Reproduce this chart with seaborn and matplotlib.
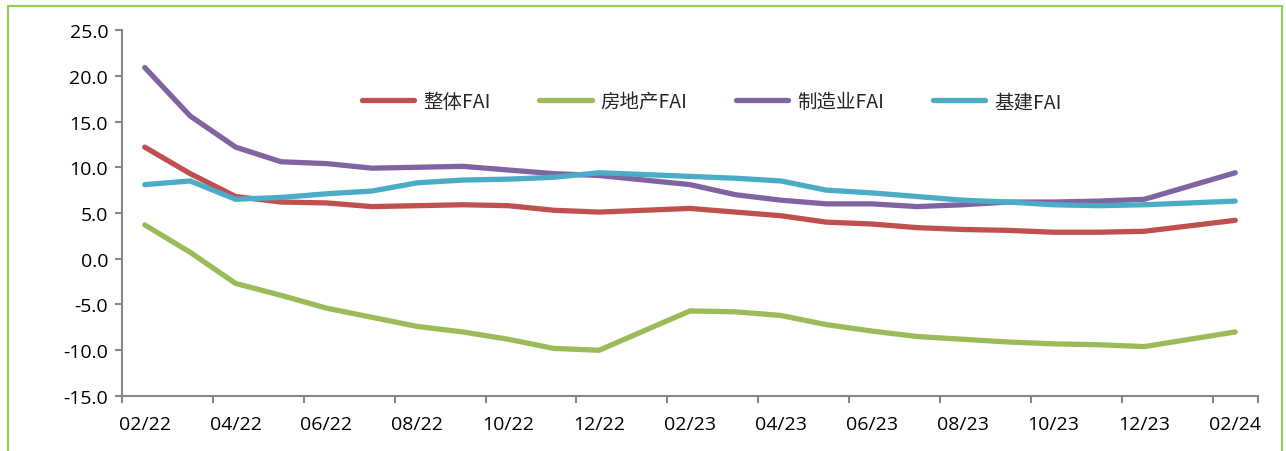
import matplotlib
matplotlib.use("Agg")
import matplotlib.pyplot as plt
from matplotlib.patches import Rectangle
from matplotlib.ticker import FixedLocator, FormatStrFormatter
import pandas as pd
import seaborn as sns

# monthly cumulative YoY (%), Jan figures are not published
MONTHS = [
    "2022-02", "2022-03", "2022-04", "2022-05", "2022-06", "2022-07", "2022-08",
    "2022-09", "2022-10", "2022-11", "2022-12",
    "2023-02", "2023-03", "2023-04", "2023-05", "2023-06", "2023-07", "2023-08",
    "2023-09", "2023-10", "2023-11", "2023-12",
    "2024-02",
]
TOTAL_FAI = [12.2, 9.3, 6.8, 6.2, 6.1, 5.7, 5.8, 5.9, 5.8, 5.3, 5.1,
             5.5, 5.1, 4.7, 4.0, 3.8, 3.4, 3.2, 3.1, 2.9, 2.9, 3.0,
             4.2]
PROPERTY_FAI = [3.7, 0.7, -2.7, -4.0, -5.4, -6.4, -7.4, -8.0, -8.8, -9.8, -10.0,
                -5.7, -5.8, -6.2, -7.2, -7.9, -8.5, -8.8, -9.1, -9.3, -9.4, -9.6,
                -8.0]
MANUF_FAI = [20.9, 15.6, 12.2, 10.6, 10.4, 9.9, 10.0, 10.1, 9.7, 9.3, 9.1,
             8.1, 7.0, 6.4, 6.0, 6.0, 5.7, 5.9, 6.2, 6.2, 6.3, 6.5,
             9.4]
INFRA_FAI = [8.1, 8.5, 6.5, 6.7, 7.1, 7.4, 8.3, 8.6, 8.7, 8.9, 9.4,
             9.0, 8.8, 8.5, 7.5, 7.2, 6.8, 6.4, 6.2, 5.9, 5.8, 5.9,
             6.3]
SERIES_NAMES = ["整体FAI", "房地产FAI", "制造业FAI", "基建FAI"]
COLORS = ["#C0504D", "#9BBB59", "#8064A2", "#4BACC6"]
Y_TICKS = [-15, -10, -5, 0, 5, 10, 15, 20, 25]

dates = pd.to_datetime(MONTHS)
start = dates[0]
month_pos = (dates.year - start.year) * 12 + (dates.month - start.month)

frames = []
for name, vals in zip(SERIES_NAMES, [TOTAL_FAI, PROPERTY_FAI, MANUF_FAI, INFRA_FAI]):
    frames.append(pd.DataFrame({"pos": month_pos, "value": vals, "series": name}))
df = pd.concat(frames, ignore_index=True)

sns.set_theme(style="white")
plt.rcParams["font.family"] = ["Open Sans", "Noto Sans CJK SC", "DejaVu Sans"]

fig = plt.figure(figsize=(12.86, 4.52), dpi=100)
ax = fig.add_axes([0.0949, 0.1217, 0.8833, 0.8097])

sns.lineplot(data=df, x="pos", y="value", hue="series", hue_order=SERIES_NAMES,
             palette=COLORS, linewidth=3.8, ax=ax, sort=True)
for line in ax.get_lines():
    line.set_solid_capstyle("round")
    line.set_solid_joinstyle("round")

n_months = int(month_pos.max())
ax.set_xlim(-0.5, n_months + 0.5)
ax.set_ylim(min(Y_TICKS), max(Y_TICKS))

label_pos = list(range(0, n_months + 1, 2))
label_txt = [(start + pd.DateOffset(months=p)).strftime("%m/%y") for p in label_pos]
ax.set_xticks(label_pos)
ax.set_xticklabels(label_txt)
ax.xaxis.set_minor_locator(FixedLocator([p - 0.5 for p in label_pos] + [n_months + 0.5]))
ax.tick_params(axis="x", which="major", length=0, pad=14, labelsize=14, colors="#000000")
ax.tick_params(axis="x", which="minor", bottom=True, length=5, width=1.5, color="#868686",
               direction="out")
ax.set_yticks(Y_TICKS)
ax.yaxis.set_major_formatter(FormatStrFormatter("%.1f"))
ax.tick_params(axis="y", left=True, length=5, width=1.5, color="#868686", direction="out",
               pad=5, labelsize=14, labelcolor="#000000")

for side in ["top", "right"]:
    ax.spines[side].set_visible(False)
for side in ["left", "bottom"]:
    ax.spines[side].set_color("#868686")
    ax.spines[side].set_linewidth(1.5)

ax.set_xlabel("")
ax.set_ylabel("")
handles, labels = ax.get_legend_handles_labels()
ax.legend(handles, labels, loc="center", bbox_to_anchor=(0.519, 0.804), ncol=4,
          frameon=False, handlelength=2.7, handletextpad=0.45,
          columnspacing=2.5, prop={"family": ["Noto Sans CJK SC", "DejaVu Sans"], "size": 14})

fig.patches.append(Rectangle((8 / 1286, -0.02), 1 - 12 / 1286, 1.02 - 7 / 452,
                             transform=fig.transFigure, fill=False,
                             edgecolor="#92D050", linewidth=1.5))

fig.savefig("out.png", dpi=100)
